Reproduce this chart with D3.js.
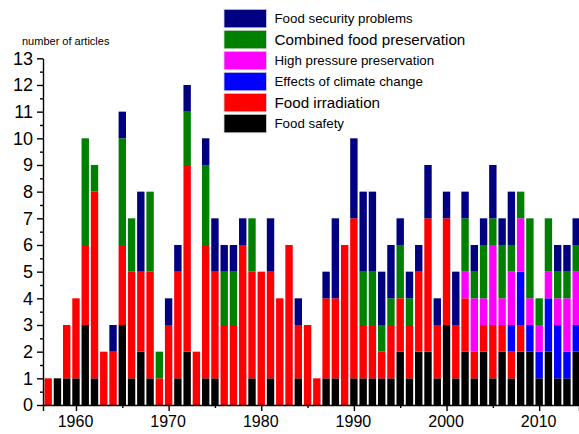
<!DOCTYPE html>
<html>
<head>
<meta charset="utf-8">
<script src="https://cdn.jsdelivr.net/npm/d3@7"></script>
<style>
  body { margin: 0; background: #fff; }
  svg { display: block; font-family: "Liberation Sans", Arial, sans-serif; }
</style>
</head>
<body>
<div class="content"></div>
<script>
// years 1957 .. 2014
var years = d3.range(1957, 2015);

//               57-59     1960s                   1970s                   1980s                   1990s                   2000s                   2010-14
var safety    = [0,1,1,  1,3,1,0,0,3,1,2,1,0,  0,1,2,0,1,1,0,0,0,1,  0,1,0,0,1,0,0,1,1,0,  1,1,1,1,1,2,1,2,2,1,  3,1,2,1,2,1,2,1,2,2,  1,2,1,1,2];
var irradiation=[1,0,2,  3,3,7,2,2,3,4,3,4,1,  3,4,7,2,5,4,3,3,6,4,  5,4,4,6,2,3,1,3,3,6,  6,2,2,1,2,2,2,3,5,2,  4,2,2,1,1,2,1,1,1,0,  0,0,0,0,0];
var climate   = [0,0,0,  0,0,0,0,0,0,0,0,0,0,  0,0,0,0,0,0,0,0,0,0,  0,0,0,0,0,0,0,0,0,0,  0,0,0,0,0,0,0,0,0,0,  0,0,0,0,0,0,0,1,2,1,  1,2,2,1,1];
var pressure  = [0,0,0,  0,0,0,0,0,0,0,0,0,0,  0,0,0,0,0,0,0,0,0,0,  0,0,0,0,0,0,0,0,0,0,  0,0,0,0,0,0,0,0,0,0,  0,0,1,2,1,3,1,2,2,1,  1,1,1,2,2];
var combined  = [0,0,0,  0,4,1,0,0,4,2,0,3,1,  0,0,2,0,3,0,2,2,0,2,  0,0,0,0,0,0,0,0,0,0,  0,2,2,1,1,2,1,0,0,0,  0,0,2,1,2,1,2,1,1,3,  1,2,1,1,1];
var security  = [0,0,0,  0,0,0,0,1,1,0,3,0,0,  1,1,1,0,1,2,1,1,1,0,  0,2,0,0,1,0,0,1,3,0,  3,3,3,2,2,1,1,1,2,1,  1,2,1,1,1,2,1,2,0,0,  0,0,1,1,1];

// bottom to top
var keys = ['safety', 'irradiation', 'climate', 'pressure', 'combined', 'security'];
var names = {
    safety: 'Food safety',
    irradiation: 'Food irradiation',
    climate: 'Effects of climate change',
    pressure: 'High pressure preservation',
    combined: 'Combined food preservation',
    security: 'Food security problems'
};
var colors = {
    safety: '#000000',
    irradiation: '#ff0000',
    climate: '#0000ff',
    pressure: '#ff00ff',
    combined: '#008000',
    security: '#000080'
};
// the original legend does not use one text size for all entries
var legendFont = {
    safety: 13.3, irradiation: 15.2, climate: 13.3,
    pressure: 13.3, combined: 15.2, security: 13.3
};
var xTicks = [1960, 1970, 1980, 1990, 2000, 2010];
var xMinor = [1965, 1975, 1985, 1995, 2005];
var yTicks = d3.range(0, 14);

var series = {
    safety: safety, irradiation: irradiation, climate: climate,
    pressure: pressure, combined: combined, security: security
};
var table = years.map(function(y, i) {
    var row = { year: y };
    keys.forEach(function(k) { row[k] = series[k][i]; });
    return row;
});

var chart = { width: 579, height: 434 };
chart.svg = d3.select('.content').append('svg')
    .attr('width', chart.width)
    .attr('height', chart.height);

var x = d3.scaleLinear().domain([1956.44, 2014.3]).range([43, 579]);
var y = d3.scaleLinear().domain([0, 13]).range([405, 58.3]);
var barW = 7.4;

var stacked = d3.stack().keys(keys)(table);

chart.svg.append('g').selectAll('g')
    .data(stacked)
    .join('g')
    .attr('fill', function(d) { return colors[d.key]; })
    .selectAll('rect')
    .data(function(d) { return d; })
    .join('rect')
    .attr('x', function(d) { return x(d.data.year) - barW / 2; })
    .attr('width', barW)
    .attr('y', function(d) { return y(d[1]); })
    .attr('height', function(d) { return y(d[0]) - y(d[1]); });

// x axis
var xAxis = chart.svg.append('g')
    .attr('transform', 'translate(0,405)')
    .call(d3.axisBottom(x).tickValues(xTicks).tickFormat(d3.format('d')).tickSize(6).tickPadding(5));
chart.svg.append('g')
    .attr('transform', 'translate(0,405)')
    .call(d3.axisBottom(x).tickValues(xMinor).tickFormat('').tickSize(3))
    .select('.domain').remove();
xAxis.selectAll('text').style('font-size', '16px').attr('fill', '#000').attr('dx', -1);

// y axis
var yAxis = chart.svg.append('g')
    .attr('transform', 'translate(43,0)')
    .call(d3.axisLeft(y).tickValues(yTicks).tickSize(6).tickPadding(4).tickSizeOuter(0));
chart.svg.append('g')
    .attr('transform', 'translate(43,0)')
    .call(d3.axisLeft(y).tickValues(d3.range(0.5, 13, 1)).tickFormat('').tickSize(3))
    .select('.domain').remove();
yAxis.selectAll('text').style('font-size', '18px').attr('fill', '#000');
chart.svg.selectAll('.domain, .tick line').attr('stroke', '#000').attr('stroke-width', 1.4);

chart.svg.append('text')
    .attr('x', 22)
    .attr('y', 45)
    .style('font-size', '11px')
    .text('number of articles');

// legend, top entry first
var legend = chart.svg.append('g').attr('transform', 'translate(224,9.3)');
var legendKeys = keys.slice().reverse();
var item = legend.selectAll('g')
    .data(legendKeys)
    .join('g')
    .attr('transform', function(d, i) { return 'translate(0,' + (i * 21) + ')'; });
item.append('rect')
    .attr('width', 42.5)
    .attr('height', 18.5)
    .attr('fill', function(d) { return colors[d]; })
    .attr('stroke', '#d8d8d8')
    .attr('stroke-width', 0.8);
item.append('text')
    .attr('x', 50.5)
    .attr('y', 9.5)
    .attr('dy', '0.35em')
    .style('font-size', function(d) { return legendFont[d] + 'px'; })
    .text(function(d) { return names[d]; });
</script>
</body>
</html>
